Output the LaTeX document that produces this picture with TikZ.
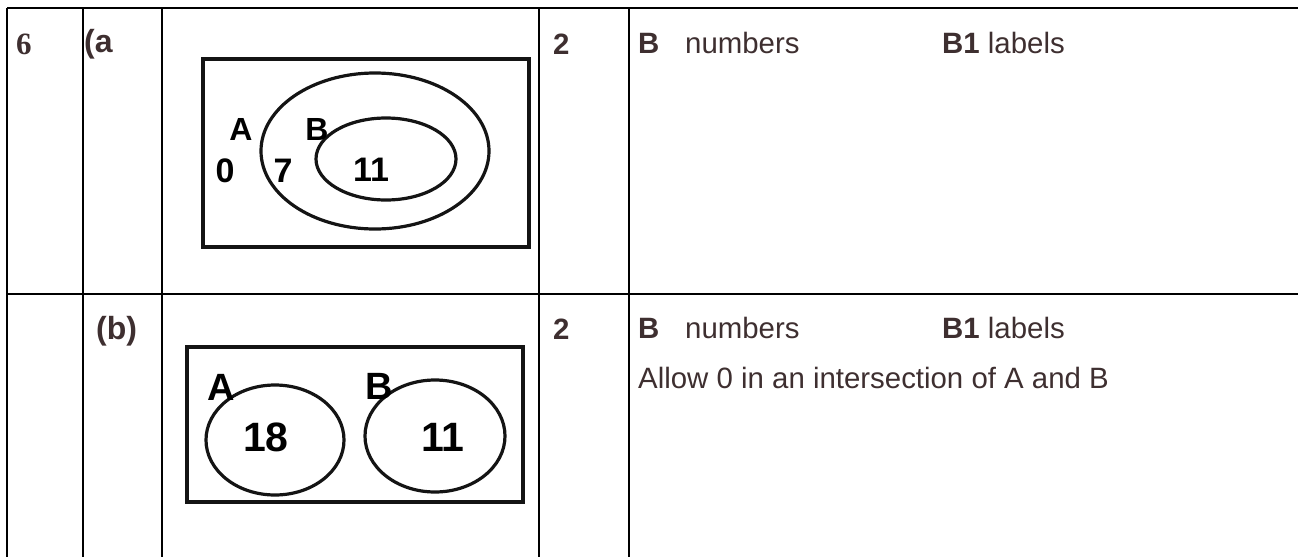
\documentclass[tikz,border=0pt]{standalone}
\usepackage{fontspec}
\setmainfont{Liberation Sans}
\newfontfamily\serifnum{Liberation Serif}
\definecolor{txt}{HTML}{3E2F30}
\begin{document}
\begin{tikzpicture}[x=1pt,y=-1pt,
  rule/.style={line width=1.3pt,black},
  venn/.style={line width=3.2pt,black!92},
  cell/.style={inner sep=0pt,anchor=west,text=txt,font=\fontsize{29.4}{34}\selectfont},
  bcell/.style={cell,font=\bfseries\fontsize{29.4}{34}\selectfont},
  vlab/.style={inner sep=0pt,text=black,font=\bfseries\fontsize{32}{36}\selectfont},
  vnum/.style={inner sep=0pt,text=black,font=\bfseries\fontsize{34}{38}\selectfont},
  blab/.style={inner sep=0pt,text=black,font=\bfseries\fontsize{38}{40}\selectfont},
  bnum/.style={inner sep=0pt,text=black,font=\bfseries\fontsize{41}{44}\selectfont}]
\useasboundingbox (0,0) rectangle (1298,557);
% table rules
\coordinate (tl) at (7,8);
\coordinate (tr) at (1298,8);
\coordinate (ml) at (7,294);
\coordinate (mr) at (1298,294);
\draw[rule] (tl) -- (tr);
\draw[rule] (ml) -- (mr);
\draw[rule] (7,8) -- (7,557);
\draw[rule] (83,8) -- (83,557);
\draw[rule] (162,8) -- (162,557);
\draw[rule] (539,8) -- (539,557);
\draw[rule] (629,8) -- (629,557);
% row 1 texts
\node[cell,font=\serifnum\bfseries\fontsize{31}{34}\selectfont] (q6) at (16,44) {6};
\node[bcell,font=\bfseries\fontsize{32}{36}\selectfont] (qa) at (84,44) {(a};
\node[bcell] (m1) at (553,44) {2};
\node[bcell] (b1) at (638,43) {B};
\node[cell] (n1) at (685,43) {numbers};
\node[cell] (l1) at (942,43) {\textbf{B1} labels};
% row 2 texts
\node[bcell,font=\bfseries\fontsize{32}{36}\selectfont] (qb) at (96,331) {(b)};
\node[bcell] (m2) at (553,329) {2};
\node[bcell] (b2) at (638,328) {B};
\node[cell] (n2) at (685,328) {numbers};
\node[cell] (l2) at (942,328) {\textbf{B1} labels};
\node[cell] (al) at (638,378) {Allow 0 in an intersection of A and B};
% Venn (a)
\draw[venn] (203,59) rectangle (529,247);
\draw[venn] (375,151) ellipse [x radius=114, y radius=78];
\draw[venn] (386,159) ellipse [x radius=70, y radius=41];
\node[vlab] (aA) at (241,129) {A};
\node[vlab] (aB) at (317,129) {B};
\node[vnum] (a0) at (225,171) {0};
\node[vnum] (a7) at (283,171) {7};
\node[vnum] (a11) at (371,170) {11};
% Venn (b)
\draw[venn] (187,347) rectangle (523,502);
\draw[venn] (275,440) ellipse [x radius=69, y radius=55];
\draw[venn] (435,436) ellipse [x radius=70, y radius=56];
\node[blab] (bA) at (221,387) {A};
\node[blab] (bB) at (379,386) {B};
\node[bnum] (b18) at (266,437) {18};
\node[bnum] (b11) at (443,437) {11};
\end{tikzpicture}
\end{document}
